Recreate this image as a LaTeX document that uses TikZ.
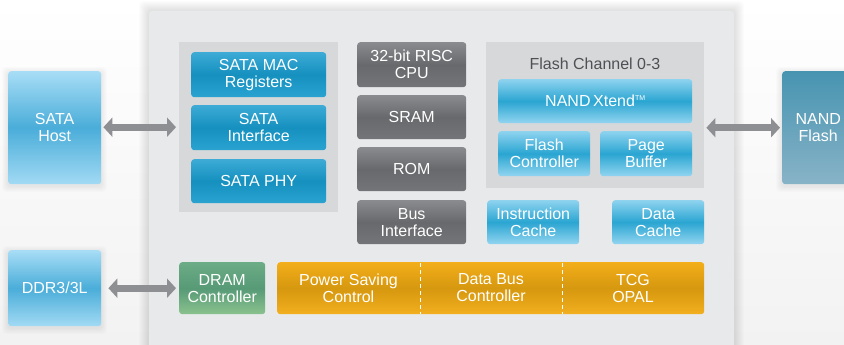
\documentclass[tikz,border=0pt]{standalone}
\usepackage{fontspec}
\setmainfont{Liberation Sans}
\usepackage{tikz}
\usetikzlibrary{calc,arrows.meta,positioning}

\definecolor{chipgray}{HTML}{E8E9EB}
\definecolor{panelgray}{HTML}{D7D8DA}
\definecolor{arrowgray}{HTML}{8E8F93}
\definecolor{titlegray}{HTML}{4F5053}
\definecolor{hosttop}{HTML}{A8DDF6}\definecolor{hostmid}{HTML}{4AADD9}\definecolor{hostbot}{HTML}{A2DAF4}
\definecolor{darktop}{HTML}{3DABD6}\definecolor{darkmid}{HTML}{1590BF}\definecolor{darkbot}{HTML}{2AA3D1}
\definecolor{lighttop}{HTML}{8ED3EF}\definecolor{lightmid}{HTML}{2AA5D2}\definecolor{lightbot}{HTML}{92D5F0}
\definecolor{graytop}{HTML}{8A8B8E}\definecolor{graymid}{HTML}{68696C}\definecolor{graybot}{HTML}{747578}
\definecolor{greentop}{HTML}{6CAC86}\definecolor{greenmid}{HTML}{579A76}\definecolor{greenbot}{HTML}{8AC28E}
\definecolor{orangetop}{HTML}{F3AE1A}\definecolor{orangemid}{HTML}{D6980F}\definecolor{orangebot}{HTML}{F2AF1F}
\definecolor{nandtop}{HTML}{4794B1}\definecolor{nandbot}{HTML}{88B3C7}
\definecolor{pagebot}{HTML}{F2F2F3}

\tikzset{
  blk/.style={rounded corners=3pt, text=white, align=center, inner sep=0pt, anchor=north west,
              font=\fontsize{16}{17}\selectfont},
  hostblue/.style={blk, top color=hosttop, bottom color=hostbot, middle color=hostmid},
  darkblue/.style={blk, top color=darktop, bottom color=darkbot, middle color=darkmid},
  lightblue/.style={blk, top color=lighttop, bottom color=lightbot, middle color=lightmid},
  cpugray/.style={blk, top color=graytop, bottom color=graybot, middle color=graymid},
  dramgreen/.style={blk, top color=greentop, bottom color=greenbot, middle color=greenmid},
  busorange/.style={blk, top color=orangetop, bottom color=orangebot, middle color=orangemid},
  nandblue/.style={blk, top color=nandtop, bottom color=nandbot},
  panel/.style={fill=panelgray, anchor=north west, inner sep=0pt},
  bartext/.style={text=white, align=center, font=\fontsize{16}{17}\selectfont},
  bigarrow/.style={draw=arrowgray, line width=7pt, {Triangle[width=19pt,length=9pt]}-{Triangle[width=19pt,length=9pt]}},
}

\begin{document}
\begin{tikzpicture}[x=1pt,y=-1pt]

\useasboundingbox (0,0) rectangle (844,345);
\fill[top color=white, bottom color=pagebot] (0,0) rectangle (844,345);

% soft shadows
\foreach \s in {1,...,10}
  \fill[black, opacity=0.012, rounded corners=4pt] (149-\s,11-\s) rectangle (734+\s,360);
\foreach \s in {1,...,6} {
  \fill[black, opacity=0.012, rounded corners=4pt] (8-\s,73-\s) rectangle (101+\s,186+\s);
  \fill[black, opacity=0.012, rounded corners=4pt] (8-\s,252-\s) rectangle (101+\s,328+\s);
  \fill[black, opacity=0.012, rounded corners=4pt] (782-\s,73-\s) rectangle (854,186+\s);
}
\fill[chipgray, rounded corners=3pt] (149,11) rectangle (734,360);

% outside parts
\node[hostblue, minimum width=93, minimum height=113] (host) at (8,71) {SATA\\Host};
\node[hostblue, minimum width=93, minimum height=76] (ddr) at (8,250) {DDR3/3L};
\node[nandblue, minimum width=72, minimum height=113] (nand) at (782,71) {NAND\\Flash};

% SATA side
\node[panel, minimum width=159, minimum height=170] (satapanel) at (179,42) {};
\node[darkblue, minimum width=135, minimum height=45] (mac) at (191,52) {SATA MAC\\Registers};
\node[darkblue, minimum width=135, minimum height=45] (sif) at (191,105) {SATA\\Interface};
\node[darkblue, minimum width=135, minimum height=44] (phy) at (191,159) {SATA PHY};

% CPU column
\node[cpugray, minimum width=109, minimum height=45] (cpu) at (357,42) {32-bit RISC\\CPU};
\node[cpugray, minimum width=109, minimum height=44] (sram) at (357,95) {SRAM};
\node[cpugray, minimum width=109, minimum height=44] (rom) at (357,147) {ROM};
\node[cpugray, minimum width=109, minimum height=44] (busif) at (357,200) {Bus\\Interface};

% flash channels
\node[panel, minimum width=218, minimum height=146] (flashpanel) at (486,42) {};
\node[text=titlegray, font=\fontsize{16}{17}\selectfont] (fctitle) at (595,64) {Flash Channel 0-3};
\node[lightblue, minimum width=194, minimum height=44] (nandx) at (498,79)
  {NAND\,Xtend\raisebox{6pt}{\fontsize{7}{7}\selectfont TM}};
\node[lightblue, minimum width=92, minimum height=45] (fctrl) at (498,131) {Flash\\Controller};
\node[lightblue, minimum width=92, minimum height=45] (pbuf) at (600,131) {Page\\Buffer};
\node[lightblue, minimum width=92, minimum height=44] (icache) at (487,200) {Instruction\\Cache};
\node[lightblue, minimum width=92, minimum height=44] (dcache) at (612,200) {Data\\Cache};

% bottom row
\node[dramgreen, minimum width=86, minimum height=52] (dram) at (179,262) {DRAM\\Controller};
\node[busorange, minimum width=427, minimum height=52] (bar) at (277,262) {};
\node[bartext] (psc) at (348.5,288) {Power Saving\\Control};
\node[bartext] (dbc) at (491,288) {Data Bus\\Controller};
\node[bartext] (tcg) at (633,288) {TCG\\OPAL};
\draw[white, line width=0.8pt, dash pattern=on 4pt off 3pt] (420,263) -- (420,314);
\draw[white, line width=0.8pt, dash pattern=on 4pt off 3pt] (562,263) -- (562,314);

% links
\draw[bigarrow, shorten <=2pt, shorten >=3pt] (host.east |- satapanel.west) -- (satapanel.west);
\draw[bigarrow, shorten <=7pt, shorten >=3pt] (ddr.east) -- (dram.west);
\coordinate (fcedge) at (flashpanel.east |- nand.west);
\draw[bigarrow, shorten <=2pt, shorten >=2pt] (fcedge) -- (nand.west);

\end{tikzpicture}
\end{document}
